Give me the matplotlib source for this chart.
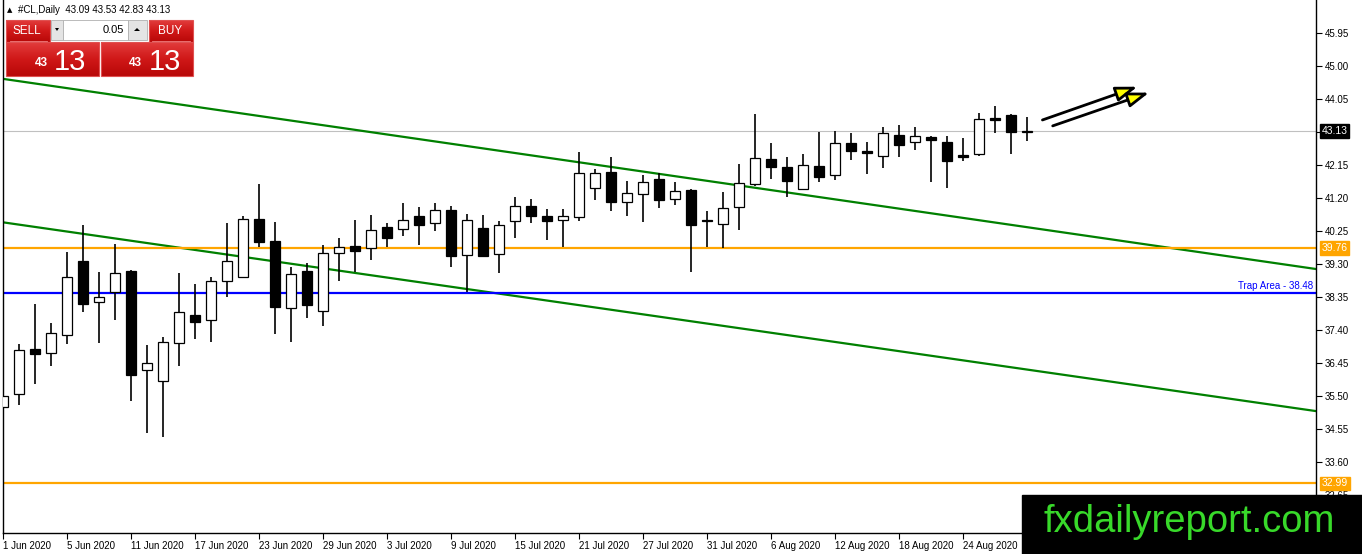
import numpy as np
import matplotlib
matplotlib.use('Agg')
import matplotlib.pyplot as plt
from matplotlib.patches import Rectangle, Polygon
from matplotlib.colors import LinearSegmentedColormap

plt.rcParams['font.family'] = ['Liberation Sans', 'DejaVu Sans']

# daily OHLC for #CL, 1 Jun 2020 .. 28 Aug 2020
opens = [35.18, 35.55, 36.85, 36.73, 37.25, 39.39, 38.20, 38.49, 39.10, 36.24,
         35.94, 37.02, 37.82, 37.70, 38.80, 38.94, 40.59, 39.96, 38.03, 39.10,
         37.94, 39.61, 39.81, 39.75, 40.36, 40.30, 40.67, 40.47, 40.85, 39.55,
         40.33, 39.58, 40.53, 40.97, 40.67, 40.56, 40.65, 41.48, 41.94, 41.08,
         41.31, 41.74, 41.18, 41.43, 40.57, 40.46, 40.93, 41.60, 42.32, 42.08,
         41.45, 42.11, 41.85, 42.78, 42.55, 42.42, 43.01, 42.80, 42.96, 42.81,
         42.43, 42.46, 43.49, 43.59, 43.09]
highs = [35.85, 36.99, 38.14, 37.59, 39.66, 40.42, 39.06, 39.87, 39.12, 36.97,
         37.20, 39.03, 38.73, 38.94, 40.49, 40.68, 41.60, 40.50, 39.21, 39.32,
         39.84, 40.04, 40.56, 40.71, 40.49, 41.05, 40.94, 41.05, 40.97, 40.74,
         40.71, 40.54, 41.23, 41.16, 40.88, 40.88, 42.52, 42.04, 42.39, 41.68,
         41.86, 41.91, 41.65, 41.47, 40.84, 41.37, 42.18, 43.62, 42.77, 42.38,
         42.47, 43.11, 43.13, 43.07, 42.81, 43.24, 43.30, 43.24, 42.98, 42.99,
         42.92, 43.65, 43.85, 43.61, 43.53]
lows = [34.23, 35.25, 35.86, 36.35, 37.01, 37.93, 37.04, 37.70, 35.37, 34.44,
        34.33, 36.35, 37.14, 37.06, 38.36, 38.91, 39.78, 37.28, 37.05, 37.76,
        37.51, 38.82, 39.08, 39.42, 39.80, 40.12, 39.86, 40.26, 39.22, 38.49,
        39.49, 39.05, 40.06, 40.49, 40.00, 39.79, 40.55, 41.15, 40.84, 40.69,
        40.52, 40.92, 41.01, 39.08, 39.79, 39.77, 40.29, 41.55, 41.76, 41.24,
        41.43, 41.67, 41.73, 42.29, 41.90, 42.07, 42.39, 42.57, 41.67, 41.50,
        42.27, 42.42, 43.08, 42.46, 42.83]
closes = [35.50, 36.82, 36.70, 37.31, 38.92, 38.16, 38.34, 39.03, 36.11, 36.44,
          37.05, 37.91, 37.64, 38.80, 39.38, 40.59, 39.94, 38.05, 39.00, 38.13,
          39.61, 39.78, 39.67, 40.27, 40.06, 40.56, 40.43, 40.85, 39.54, 40.56,
          39.54, 40.42, 40.96, 40.69, 40.55, 40.67, 41.91, 41.91, 41.08, 41.34,
          41.67, 41.15, 41.39, 40.43, 40.54, 40.90, 41.62, 42.34, 42.10, 41.70,
          42.14, 41.81, 42.78, 42.56, 42.49, 43.06, 42.73, 42.98, 42.86, 42.27,
          42.39, 43.47, 43.46, 43.09, 43.13]

date_labels = ['1 Jun 2020', '5 Jun 2020', '11 Jun 2020', '17 Jun 2020', '23 Jun 2020',
               '29 Jun 2020', '3 Jul 2020', '9 Jul 2020', '15 Jul 2020', '21 Jul 2020',
               '27 Jul 2020', '31 Jul 2020', '6 Aug 2020', '12 Aug 2020', '18 Aug 2020',
               '24 Aug 2020']
price_ticks = [45.95, 45.00, 44.05, 43.10, 42.15, 41.20, 40.25, 39.30, 38.35,
               37.40, 36.45, 35.50, 34.55, 33.60, 32.65]

# trend channel (bar index, price) and horizontal levels
upper_channel = ([0, 82], [44.63, 39.16])
lower_channel = ([0, 82], [40.50, 35.07])
resistance = 39.76
trap_area = 38.48
support = 32.99
bid = 43.13
arrow_1 = ([64.8, 71.06], [43.42, 44.43])
arrow_2 = ([65.44, 71.79], [43.25, 44.26])

W, H = 1362, 554
fig = plt.figure(figsize=(W / 100, H / 100), dpi=100)
fig.patch.set_facecolor('white')
ax = fig.add_axes([3 / W, (H - 533) / H, 1313 / W, 533 / H])

x = np.arange(len(opens))
o = np.array(opens); c = np.array(closes)
up = c >= o
ax.vlines(x, lows, highs, color='black', lw=1.2, zorder=3)
ax.bar(x, np.maximum(np.abs(c - o), 0.03), bottom=np.minimum(o, c), width=0.62,
       color=np.where(up, 'white', 'black'), edgecolor='black', lw=0.9, zorder=4)

ax.plot(*upper_channel, color='#008000', lw=1.6, zorder=2)
ax.plot(*lower_channel, color='#008000', lw=1.6, zorder=2)
ax.axhline(resistance, color='#FFA500', lw=1.6, zorder=2)
ax.axhline(support, color='#FFA500', lw=1.6, zorder=2)
ax.axhline(trap_area, color='#0000FF', lw=1.6, zorder=2)
ax.axhline(bid, color='#C0C0C0', lw=0.8, zorder=1)
ax.text(0.998, trap_area + 0.04, 'Trap Area - %.2f' % trap_area, color='#0000FF',
        fontsize=7, ha='right', va='bottom', transform=ax.get_yaxis_transform())

for arr in (arrow_1, arrow_2):
    ax.annotate('', xy=(arr[0][1], arr[1][1]), xytext=(arr[0][0], arr[1][0]),
                arrowprops=dict(arrowstyle='-|>,head_length=1.3,head_width=0.45',
                                fc='#FFFF00', ec='black', lw=2.0), zorder=6)

ax.set_xlim(0, 82.06)
ax.set_ylim(31.557, 46.90)
ax.set_xticks(x[::4][:len(date_labels)])
ax.set_xticklabels(date_labels, fontsize=7, ha='left')
ax.yaxis.tick_right()
ax.set_yticks(price_ticks)
ax.set_yticklabels(['' if abs(p - 43.10) < 0.01 else '%.2f' % p for p in price_ticks],
                   fontsize=7)
ax.tick_params(axis='both', direction='out', length=4, width=0.8, pad=2)
ax.spines['top'].set_visible(False)
for s in ('left', 'right', 'bottom'):
    ax.spines[s].set_linewidth(1.0)

for val, bg in ((bid, 'black'), (resistance, '#FFA500'), (support, '#FFA500')):
    ax.text(1.0045, val, '%.2f' % val, color='white', fontsize=7.5, ha='left', va='center',
            transform=ax.get_yaxis_transform(), clip_on=False, zorder=10,
            bbox=dict(boxstyle='square,pad=0.15', fc=bg, ec=bg))

# overlay in pixel coordinates for the terminal decorations
ov = fig.add_axes([0, 0, 1, 1], zorder=5)
ov.set_xlim(0, W); ov.set_ylim(H, 0); ov.axis('off'); ov.patch.set_alpha(0)

ov.text(7, 10, '\u25B2', fontsize=5, va='center', family=['DejaVu Sans'])
ov.text(18, 10, '#CL,Daily  %.2f %.2f %.2f %.2f' % (opens[-1], highs[-1], lows[-1], closes[-1]),
        fontsize=7, va='center')

reds = LinearSegmentedColormap.from_list('reds', ['#e23c3c', '#d01818', '#b80808'])
grad = np.linspace(0, 1, 64).reshape(-1, 1)
for (x0, y0, w, h) in ((6, 20, 44, 22), (149, 20, 44, 22), (6, 42, 93, 34), (101, 42, 92, 34)):
    ov.imshow(grad, cmap=reds, aspect='auto', extent=(x0, x0 + w, y0 + h, y0), zorder=1)
    ov.add_patch(Rectangle((x0, y0), w, h, fc='none', ec='#e05050', lw=0.8, zorder=2))
ov.plot([10, 47], [41, 41], color='#f08080', lw=0.6, zorder=3)
ov.plot([152, 190], [41, 41], color='#f08080', lw=0.6, zorder=3)
ov.text(27, 31, 'SELL', color='white', fontsize=8.5, ha='center', va='center', zorder=4)
ov.text(170, 31, 'BUY', color='white', fontsize=8.5, ha='center', va='center', zorder=4)
ov.add_patch(Rectangle((51, 20), 12, 20, fc='#e4e4e4', ec='#b0b0b0', lw=0.6, zorder=2))
ov.add_patch(Rectangle((63, 20), 65, 20, fc='white', ec='#b0b0b0', lw=0.6, zorder=2))
ov.add_patch(Rectangle((128, 20), 19, 20, fc='#e4e4e4', ec='#b0b0b0', lw=0.6, zorder=2))
ov.add_patch(Polygon([[55, 28], [59, 28], [57, 31]], fc='black', zorder=3))
ov.add_patch(Polygon([[134, 31], [140, 31], [137, 28]], fc='black', zorder=3))
ov.text(124, 30, '0.05', fontsize=8, ha='right', va='center', zorder=4)
for xs, xb in ((35, 54), (129, 149)):
    ov.text(xs, 66, '43', color='white', fontsize=8.5, weight='bold', ha='left',
            va='baseline', zorder=4)
    ov.text(xb, 70, '13', color='white', fontsize=21, ha='left', va='baseline', zorder=4)

ov.add_patch(Rectangle((1022, 495), W - 1022, H - 495, fc='black', ec='black', zorder=2))
ov.text(1189, 522, 'fxdailyreport.com', color='#38d92a', fontsize=27.5,
        ha='center', va='center', zorder=3)
ov.set_xlim(0, W); ov.set_ylim(H, 0)

fig.savefig('out.png', dpi=100)
